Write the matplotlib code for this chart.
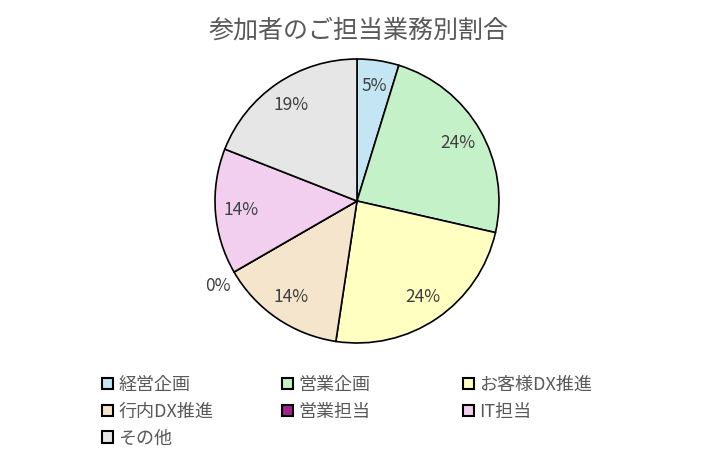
import numpy as np
import matplotlib
matplotlib.use("Agg")
import matplotlib.pyplot as plt

plt.rcParams['font.family'] = ['Noto Sans CJK JP', 'DejaVu Sans']

title = "参加者のご担当業務別割合"
categories = ["経営企画", "営業企画", "お客様DX推進", "行内DX推進", "営業担当", "IT担当", "その他"]
counts = [1, 5, 5, 3, 0, 3, 4]
colors = ["#C3E5F4", "#C5F1C9", "#FFFFC1", "#F6E5CD", "#A1238F", "#F2CFEE", "#E6E6E6"]

text_gray = "#595959"
label_gray = "#404040"

fig = plt.figure(figsize=(7.18, 4.58), dpi=100)
cx, cy, r = 357, 201, 142
ax = fig.add_axes([(cx - r) / 718, (458 - cy - r) / 458, 2 * r / 718, 2 * r / 458])

wedges, texts, autotexts = ax.pie(
    counts, colors=colors, startangle=90, counterclock=False,
    autopct='%.0f%%', pctdistance=0.82,
    wedgeprops=dict(edgecolor="black", linewidth=1.2),
    textprops=dict(color=label_gray, fontsize=12.5),
)
ax.set_xlim(-1, 1)
ax.set_ylim(-1, 1)

# zero slice: put its label just outside the rim like Excel does
cum = np.cumsum(counts) / sum(counts)
for i, c in enumerate(counts):
    if c == 0:
        ang = np.deg2rad(90 - 360 * cum[i] + 1.5)
        autotexts[i].set_position((1.15 * np.cos(ang), 1.15 * np.sin(ang)))

fig.text(0.5, 1 - 31 / 458, title, ha="center", va="center", fontsize=18, color=text_gray)

# legend: three columns, row-major order
col_x = [102, 282, 463]
for ci in range(3):
    idx = list(range(ci, len(categories), 3))
    leg = fig.legend([wedges[i] for i in idx], [categories[i] for i in idx],
                     loc="upper left", bbox_to_anchor=(col_x[ci] / 718, 1 - 376 / 458),
                     frameon=False, fontsize=13, handlelength=0.6, handleheight=0.6,
                     handletextpad=0.3, labelspacing=0.48, borderpad=0, borderaxespad=0)
    for txt in leg.get_texts():
        txt.set_color(text_gray)
    for h in leg.legend_handles:
        h.set_linewidth(1.5)

fig.savefig("out.png", dpi=100)
